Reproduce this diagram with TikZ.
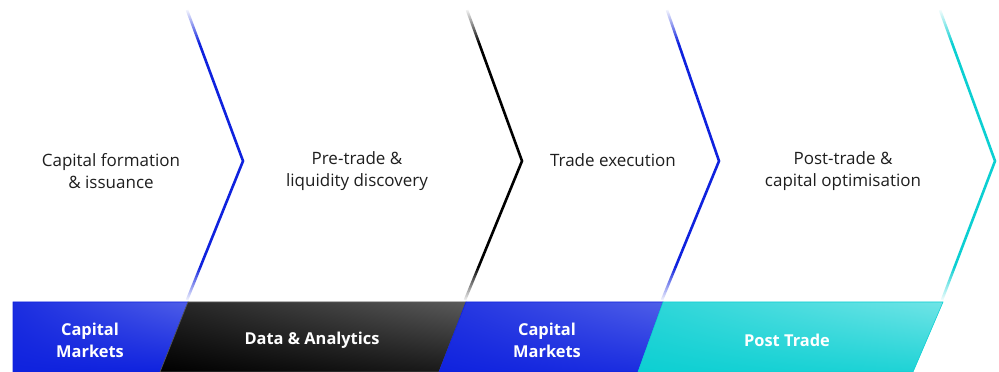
\documentclass[tikz,border=0pt]{standalone}
\usepackage{fontspec}
\setmainfont{Open Sans}
\usepackage{tikz}
\usetikzlibrary{fadings}
\usetikzlibrary{shadings}
\definecolor{cmblue}{HTML}{0F22DE}
\definecolor{cmbluelight}{HTML}{4E5EE8}
\definecolor{ptcyan}{HTML}{0CCFD2}
\definecolor{ptcyanlight}{HTML}{70E4E6}
\definecolor{dagrey}{HTML}{5A5A5A}
\definecolor{txtgrey}{HTML}{1E1E1E}
\pgfdeclareverticalshading{chevends}{100bp}{color(0bp)=(black); color(25bp)=(black); color(31bp)=(white); color(69bp)=(white); color(75bp)=(black); color(100bp)=(black)}
\pgfdeclarefading{chevfade}{\pgfuseshading{chevends}}
\tikzstyle{chevron} = [line width=2.6pt, line join=miter, path fading=chevfade, fit fading=true]
\tikzstyle{stage} = [align=center, text=txtgrey, font=\fontsize{17}{22}\selectfont]
\tikzstyle{band} = [align=center, text=white, font=\fontsize{16.4}{22}\selectfont\bfseries]

\begin{document}
\begin{tikzpicture}[x=1pt, y=1pt]
    \useasboundingbox (0, 0) rectangle (999, 372);

    % chevrons
    \draw[chevron, cmblue] (187, 362) -- (243, 211) -- (187, 72);
    \draw[chevron, black] (467, 362) -- (522, 211) -- (465, 72);
    \draw[chevron, cmblue] (667, 362) -- (719, 211) -- (662, 72);
    \draw[chevron, ptcyan] (940, 362) -- (995, 211) -- (942, 72);

    \node(formation)[stage] at (111, 201) {Capital formation\\\& issuance};
    \node(pretrade)[stage] at (357, 201) {Pre-trade \&\\liquidity discovery};
    \node(execution)[stage] at (613, 212) {Trade execution};
    \node(posttrade)[stage] at (843, 201) {Post-trade \&\\capital optimisation};

    % bottom band
    \shade[draw=cmblue, line width=0.6pt, lower left=cmblue, lower right=cmblue, upper left=cmblue!80!cmbluelight, upper right=cmbluelight] (13, 0) -- (13, 70) -- (188, 70) -- (160, 0) -- cycle;
    \shade[draw=dagrey, line width=0.6pt, lower left=black, lower right=black!70!dagrey, upper left=black!60!dagrey, upper right=dagrey] (160, 0) -- (188, 70) -- (466, 70) -- (439, 0) -- cycle;
    \shade[draw=cmblue, line width=0.6pt, lower left=cmblue, lower right=cmblue!80!cmbluelight, upper left=cmblue!70!cmbluelight, upper right=cmbluelight] (439, 0) -- (466, 70) -- (663, 70) -- (638, 0) -- cycle;
    \shade[draw=ptcyan, line width=0.6pt, lower left=ptcyan, lower right=ptcyan!80!ptcyanlight, upper left=ptcyan!70!ptcyanlight, upper right=ptcyanlight] (638, 0) -- (663, 70) -- (943, 70) -- (913, 0) -- cycle;

    \node(capmarkets1)[band] at (90, 32) {Capital\\Markets};
    \node(analytics)[band] at (312, 32) {Data \& Analytics};
    \node(capmarkets2)[band] at (547, 32) {Capital\\Markets};
    \node(posttradeband)[band] at (787, 32) {Post Trade};

\end{tikzpicture}
\end{document}
